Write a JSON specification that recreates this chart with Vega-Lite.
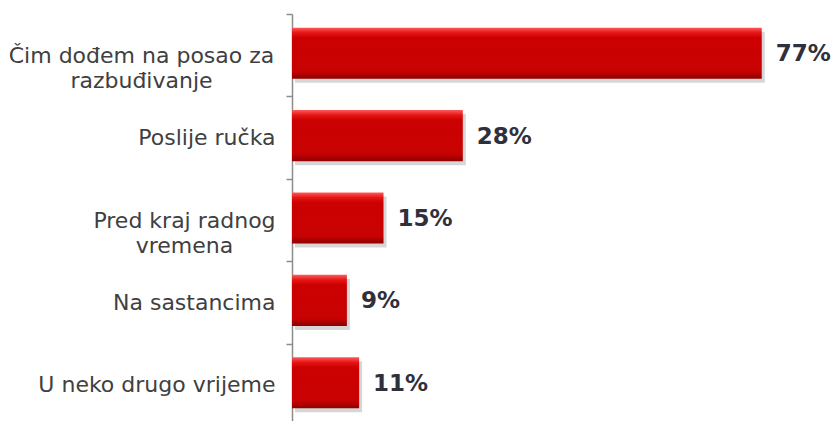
{
  "$schema": "https://vega.github.io/schema/vega-lite/v6.json",
  "width": 546,
  "height": 412,
  "autosize": {"type": "none"},
  "padding": {"left": 292, "top": 14, "right": 0, "bottom": 0},
  "background": "white",
  "config": {"view": {"stroke": null}},
  "data": {
    "values": [
      {"cat": "Čim dođem na posao za razbuđivanje", "value": 0.77},
      {"cat": "Poslije ručka", "value": 0.28},
      {"cat": "Pred kraj radnog vremena", "value": 0.15},
      {"cat": "Na sastancima", "value": 0.09},
      {"cat": "U neko drugo vrijeme", "value": 0.11}
    ]
  },
  "encoding": {
    "y": {
      "field": "cat",
      "type": "nominal",
      "sort": null,
      "title": null,
      "scale": {"paddingInner": 0, "paddingOuter": 0},
      "axis": {
        "domainColor": "#8c8c8c",
        "domainWidth": 1.5,
        "tickColor": "#8c8c8c",
        "tickWidth": 1.5,
        "tickSize": 6,
        "tickBand": "extent",
        "labelFont": "DejaVu Sans",
        "labelFontSize": 22,
        "labelColor": "#404040",
        "labelLineHeight": 25,
        "labelLimit": 400,
        "labelBaseline": "middle",
        "labelExpr": "datum.value == 'Čim dođem na posao za razbuđivanje' ? ['Čim dođem na posao za', 'razbuđivanje'] : datum.value == 'Pred kraj radnog vremena' ? ['Pred kraj radnog', 'vremena'] : datum.value",
        "labelAlign": {
          "condition": {"test": "datum.value == 'Čim dođem na posao za razbuđivanje' || datum.value == 'Pred kraj radnog vremena'", "value": "center"},
          "value": "right"
        },
        "labelPadding": {
          "condition": [
            {"test": "datum.value == 'Čim dođem na posao za razbuđivanje'", "value": 145},
            {"test": "datum.value == 'Pred kraj radnog vremena'", "value": 102}
          ],
          "value": 11
        }
      }
    },
    "x": {
      "field": "value",
      "type": "quantitative",
      "scale": {"domain": [0, 0.895]},
      "axis": null
    }
  },
  "layer": [
    {
      "mark": {"type": "bar", "height": {"band": 0.62}, "color": "#000000", "opacity": 0.16, "xOffset": 3, "yOffset": 2}
    },
    {
      "mark": {
        "type": "bar",
        "height": {"band": 0.62},
        "yOffset": -2,
        "color": {
          "gradient": "linear",
          "x1": 0, "y1": 0, "x2": 0, "y2": 1,
          "stops": [
            {"offset": 0, "color": "#ff5a5a"},
            {"offset": 0.1, "color": "#e51515"},
            {"offset": 0.2, "color": "#cc0000"},
            {"offset": 0.85, "color": "#c80202"},
            {"offset": 1, "color": "#8e0000"}
          ]
        }
      }
    },
    {
      "mark": {"type": "text", "align": "left", "baseline": "middle", "dx": 14, "dy": -1, "font": "DejaVu Sans", "fontSize": 23, "fontWeight": "bold", "color": "#30303c"},
      "encoding": {"text": {"field": "value", "type": "quantitative", "format": ".0%"}}
    }
  ]
}
